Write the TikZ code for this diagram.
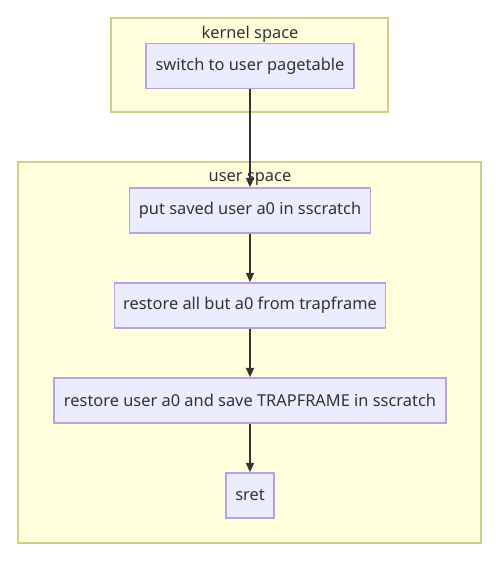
\documentclass[tikz,border=0pt]{standalone}
\usepackage{fontspec}
\setmainfont{Noto Sans}
\usepackage{tikz}
\usetikzlibrary{arrows.meta,positioning}
\definecolor{clusterfill}{HTML}{FFFFDE}
\definecolor{clusterline}{HTML}{CFCF85}
\definecolor{stepfill}{HTML}{ECECFF}
\definecolor{stepline}{HTML}{B9A2E3}
\definecolor{flowgray}{HTML}{333333}

\begin{document}
\begin{tikzpicture}[
  x=0.75pt, y=-0.75pt,
  cluster/.style={draw=clusterline, fill=clusterfill, line width=1.2pt,
                  inner sep=0pt},
  stepbox/.style={draw=stepline, fill=stepfill, line width=1.2pt,
                  minimum height=33.75pt, inner sep=0pt,
                  font=\fontsize{12.3}{14}\selectfont, text=flowgray},
  tag/.style={font=\fontsize{12.3}{14}\selectfont, text=flowgray, inner sep=0pt},
  arr/.style={-{Triangle[length=7pt,width=6pt]}, flowgray, line width=1.3pt}]
\useasboundingbox (0,0) rectangle (500,563);
% clusters
\node[cluster, minimum width=207.75pt, minimum height=70.5pt] (kernel) at (249.5,65) {};
\node[tag] (kernellbl) at (250,34) {kernel space};
\node[cluster, minimum width=347.25pt, minimum height=285.75pt] (user) at (249.5,352.5) {};
\node[tag] (userlbl) at (250,179) {user space};
% steps
\node[stepbox, minimum width=156pt] (pagetable) at (250,66) {switch to user pagetable};
\node[stepbox, minimum width=180.75pt] (saveda0) at (250,210.5) {put saved user a0 in sscratch};
\node[stepbox, minimum width=203.25pt] (restoreall) at (250,305.5) {restore all but a0 from trapframe};
\node[stepbox, minimum width=294pt] (restorea0) at (250,400.5) {restore user a0 and save TRAPFRAME in sscratch};
\node[stepbox, minimum width=36pt] (sret) at (250,495.5) {sret};
% flow
\draw[arr] (pagetable) -- (saveda0);
\draw[arr] (saveda0) -- (restoreall);
\draw[arr] (restoreall) -- (restorea0);
\draw[arr] (restorea0) -- (sret);
\end{tikzpicture}
\end{document}
